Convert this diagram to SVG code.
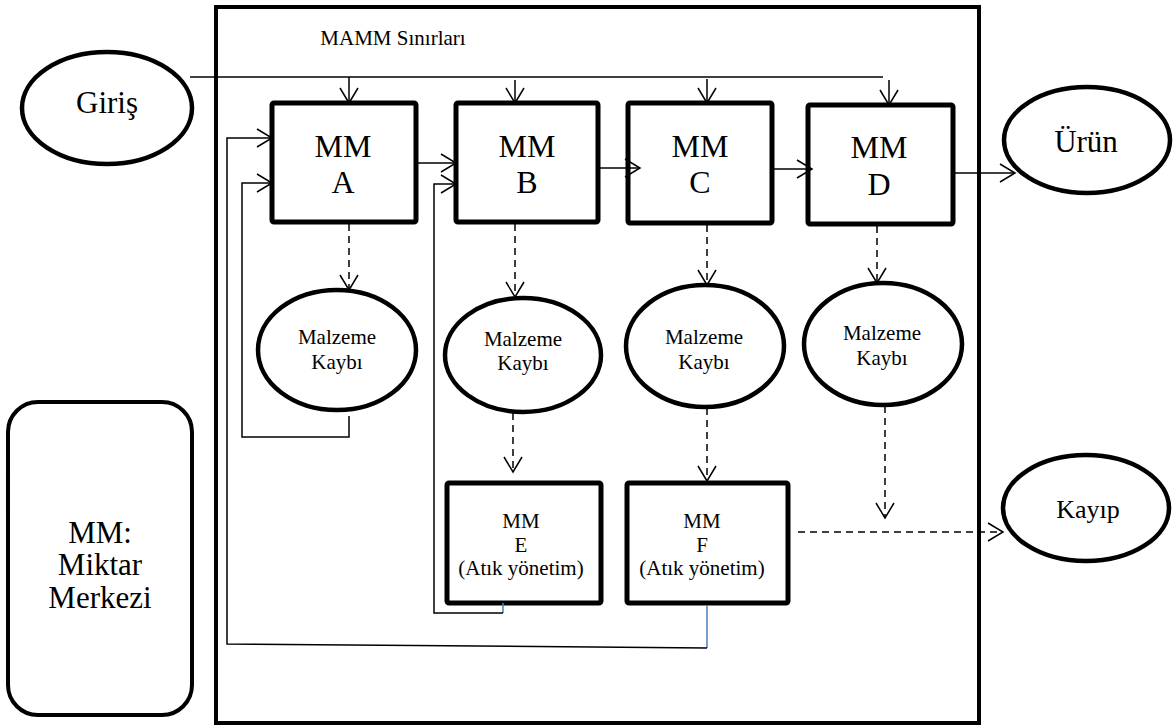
<svg xmlns="http://www.w3.org/2000/svg" width="1173" height="728" viewBox="0 0 1173 728" font-family="'Liberation Serif', 'DejaVu Serif', serif">
  <defs>
    <style>
      .box { fill: #fff; stroke: #000; stroke-width: 5; }
      .oval { fill: #fff; stroke: #000; stroke-width: 4.5; }
      .frame { fill: none; stroke: #000; stroke-width: 4; }
      .ln { fill: none; stroke: #000; stroke-width: 1.5; }
      .blue { fill: none; stroke: #4a7ebb; stroke-width: 1.5; }
      .dash { fill: none; stroke: #000; stroke-width: 1.5; stroke-dasharray: 7 5; }
      .arr { marker-end: url(#head); }
      text { font-family: 'Liberation Serif', 'DejaVu Serif', serif; fill: #000; text-anchor: middle; }
      .big { font-size: 32px; }
      .mid { font-size: 21px; }
    </style>
    <marker id="head" viewBox="-17 -11 19 22" refX="0" refY="0" markerWidth="19" markerHeight="22" markerUnits="userSpaceOnUse" orient="auto">
      <path d="M-15,-9 L0,0 L-15,9" fill="none" stroke="#000" stroke-width="1.5"/>
    </marker>
  </defs>

  <rect width="1173" height="728" fill="#fff"/>

  <!-- system boundary -->
  <g id="boundary">
    <rect class="frame" x="216" y="7" width="763" height="716"/>
    <text class="mid" x="393" y="45">MAMM Sınırları</text>
  </g>

  <!-- legend -->
  <g id="legend">
    <rect class="frame" x="8" y="402" width="184" height="313" rx="30" ry="30"/>
    <text style="font-size:31px" x="100" y="543">MM:</text>
    <text style="font-size:31px" x="100" y="575">Miktar</text>
    <text style="font-size:31px" x="100" y="608">Merkezi</text>
  </g>

  <!-- inputs / outputs -->
  <g id="giris">
    <ellipse class="oval" cx="107" cy="108" rx="85" ry="56"/>
    <text style="font-size:31px" x="107" y="113">Giriş</text>
  </g>
  <g id="urun">
    <ellipse class="oval" cx="1087" cy="140" rx="83" ry="53"/>
    <text style="font-size:31px" x="1086" y="152">Ürün</text>
  </g>
  <g id="kayip">
    <ellipse class="oval" cx="1086" cy="508" rx="83" ry="53"/>
    <text style="font-size:26px" x="1088" y="518">Kayıp</text>
  </g>

  <!-- quantity centres -->
  <g id="mm-a">
    <rect class="box" x="272" y="103" width="144" height="119" rx="2"/>
    <text class="big" x="343" y="157">MM</text>
    <text class="big" x="343" y="193">A</text>
  </g>
  <g id="mm-b">
    <rect class="box" x="456" y="103" width="142" height="119" rx="2"/>
    <text class="big" x="527" y="157">MM</text>
    <text class="big" x="527" y="193">B</text>
  </g>
  <g id="mm-c">
    <rect class="box" x="628" y="103" width="144" height="120" rx="2"/>
    <text class="big" x="700" y="157">MM</text>
    <text class="big" x="700" y="193">C</text>
  </g>
  <g id="mm-d">
    <rect class="box" x="808" y="105" width="145" height="119" rx="2"/>
    <text class="big" x="879" y="158">MM</text>
    <text class="big" x="879" y="195">D</text>
  </g>
  <g id="mm-e">
    <rect class="box" x="447" y="483" width="154" height="120" rx="2"/>
    <text class="mid" x="521" y="528">MM</text>
    <text class="mid" x="521" y="552">E</text>
    <text class="mid" x="521" y="575">(Atık yönetim)</text>
  </g>
  <g id="mm-f">
    <rect class="box" x="627" y="483" width="161" height="120" rx="2"/>
    <text class="mid" x="702" y="528">MM</text>
    <text class="mid" x="702" y="552">F</text>
    <text class="mid" x="702" y="575">(Atık yönetim)</text>
  </g>

  <!-- material losses -->
  <g id="kayip-a">
    <ellipse class="oval" cx="337" cy="350" rx="79" ry="60"/>
    <text class="mid" x="337" y="344">Malzeme</text>
    <text class="mid" x="337" y="369">Kaybı</text>
  </g>
  <g id="kayip-b">
    <ellipse class="oval" cx="523" cy="355" rx="78" ry="57"/>
    <text class="mid" x="523" y="346">Malzeme</text>
    <text class="mid" x="523" y="370">Kaybı</text>
  </g>
  <g id="kayip-c">
    <ellipse class="oval" cx="705" cy="346" rx="79" ry="61"/>
    <text class="mid" x="704" y="344">Malzeme</text>
    <text class="mid" x="704" y="369">Kaybı</text>
  </g>
  <g id="kayip-d">
    <ellipse class="oval" cx="883" cy="344" rx="79" ry="61"/>
    <text class="mid" x="882" y="340">Malzeme</text>
    <text class="mid" x="882" y="365">Kaybı</text>
  </g>

  <!-- connectors -->
  <g id="connectors">
    <!-- feed line from Giriş -->
    <path class="ln" d="M190,77 H883"/>
    <path class="ln arr" d="M349,77 V103"/>
    <path class="ln arr" d="M515,80 V103"/>
    <path class="ln arr" d="M707,79 V103"/>
    <path class="ln arr" d="M889,80 V105"/>

    <!-- main flow -->
    <path class="ln arr" d="M416,163 H456"/>
    <path class="ln arr" d="M598,168 H640"/>
    <path class="ln arr" d="M772,169 H812"/>
    <path class="ln arr" d="M953,173 H1015"/>

    <!-- losses -->
    <path class="dash arr" d="M349,224 V290"/>
    <path class="dash arr" d="M515,224 V297"/>
    <path class="dash arr" d="M707,225 V285"/>
    <path class="dash arr" d="M877,226 V283"/>
    <path class="dash arr" d="M513,413 V472"/>
    <path class="dash arr" d="M707,408 V481"/>
    <path class="dash arr" d="M885,406 V518"/>
    <path class="dash arr" d="M798,532 H1003"/>

    <!-- returns -->
    <path class="ln arr" d="M349,416 V437 H242 V183 H272"/>
    <path class="blue" d="M503,603 V613"/>
    <path class="ln arr" d="M503,613 H434 V184 H456"/>
    <path class="blue" d="M707,605 V648"/>
    <path class="ln arr" d="M707,648 L227,644 V138 H272"/>
  </g>
</svg>
